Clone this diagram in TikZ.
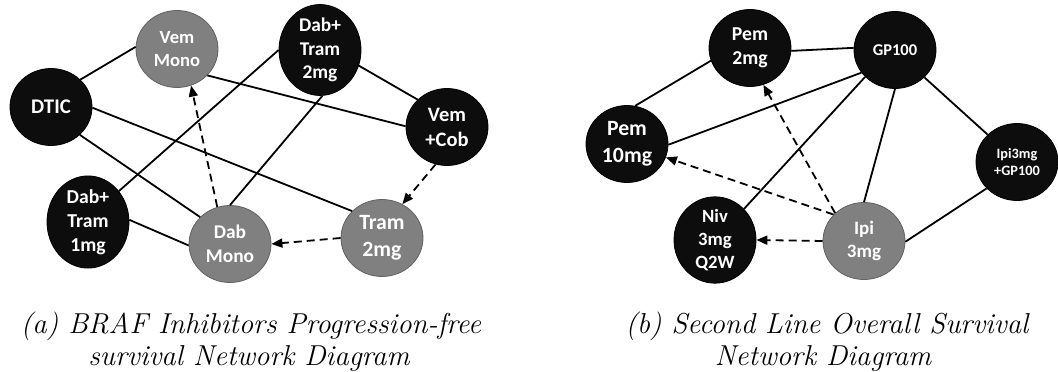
\documentclass[tikz,border=0pt]{standalone}
\usepackage{fontspec}
\newfontfamily\nodefont{Carlito}
\usetikzlibrary{shapes.geometric,arrows.meta}

\tikzset{
  trt/.style={ellipse, minimum width=82pt, minimum height=77pt, inner sep=0pt,
    align=center, text=white, line width=0.8pt},
  blk/.style={trt, fill=black!95, draw=black},
  gry/.style={trt, fill=black!50, draw=black!62},
  link/.style={line width=1.8pt, black},
  indirect/.style={link, dash pattern=on 8pt off 5pt,
    -{Triangle[length=11pt,width=9pt]}},
  capt/.style={anchor=base, inner sep=0pt,
    font=\fontsize{28.8}{32}\selectfont\itshape}
}
\newcommand\nsz[2]{\nodefont\bfseries\fontsize{#1}{#2}\selectfont}

\begin{document}
\begin{tikzpicture}[x=1pt,y=-1pt]
\useasboundingbox (0,0) rectangle (1058,372);

% ---- (a) BRAF inhibitors, progression-free survival ----
\node[blk, font=\nsz{20.8}{25.4}] (dtic)   at (51,107)  {DTIC};
\node[gry, font=\nsz{18.6}{22.7}] (vemmo)  at (177,49)  {Vem\\Mono};
\node[blk, font=\nsz{19.4}{23.7}] (dt2)    at (320,50)  {Dab+\\Tram\\2mg};
\node[blk, font=\nsz{20.5}{25}]   (vemcob) at (447,127) {Vem\\+Cob};
\node[blk, font=\nsz{19.7}{24}]   (dt1)    at (88,222)  {Dab+\\Tram\\1mg};
\node[gry, font=\nsz{19.4}{23.7}] (dabmo)  at (230,244) {Dab\\Mono};
\node[gry, font=\nsz{21.8}{26.6}] (tram2)  at (382,238) {Tram\\2mg};

\draw[link] (dtic.43)   -- (vemmo.177);
\draw[link] (dtic.-1)   -- (tram2.138);
\draw[link] (dtic.-44)  -- (dabmo.138);
\draw[link] (vemmo.-41) -- (vemcob.179);
\draw[link] (dt2.180)   -- (dt1.45);
\draw[link] (dt2.-87)   -- (dabmo.90);
\draw[link] (dt2.-22)   -- (vemcob.137);
\draw[link] (dt1.3)     -- (dabmo.-178);
\draw[indirect] (dabmo.109)   -- (vemmo.-69);
\draw[indirect] (vemcob.-107) -- (tram2.59);
\draw[indirect] (tram2.180)   -- (dabmo.0);

% ---- (b) second line, overall survival ----
\node[blk, font=\nsz{19.7}{24}]   (pem2)  at (750,48)  {Pem\\2mg};
\node[blk, font=\nsz{16.5}{20}]   (gp)    at (895,50)  {GP100};
\node[blk, font=\nsz{21.8}{26.6}] (pem10) at (627,144) {Pem\\10mg};
\node[blk, font=\nsz{14.3}{17.4}] (ipigp) at (1017,162) {Ipi3mg\\+GP100};
\node[blk, font=\nsz{18.7}{22.8}] (niv)   at (715,240) {Niv\\3mg\\Q2W};
\node[gry, font=\nsz{19}{23.2}]   (ipi)   at (864,241) {Ipi\\3mg};

\draw[link] (pem2.-4)    -- (gp.177);
\draw[link] (pem2.-162)  -- (pem10.78);
\draw[link] (gp.-146)    -- (pem10.-1);
\draw[link] (gp.-138)    -- (niv.47);
\draw[link] (gp.-90)     -- (ipi.90);
\draw[link] (gp.-43)     -- (ipigp.137);
\draw[link] (ipigp.-139) -- (ipi.-1);
\draw[indirect] (ipi.136) -- (pem2.-70);
\draw[indirect] (ipi.139) -- (pem10.-19);
\draw[indirect] (ipi.180) -- (niv.0);

% ---- captions ----
\node[capt] (capA1) at (251,333) {(a) BRAF Inhibitors Progression-free};
\node[capt] (capA2) at (249,365) {survival Network Diagram};
\node[capt] (capB1) at (827,333) {(b) Second Line Overall Survival};
\node[capt] (capB2) at (823,365) {Network Diagram};
\end{tikzpicture}
\end{document}
